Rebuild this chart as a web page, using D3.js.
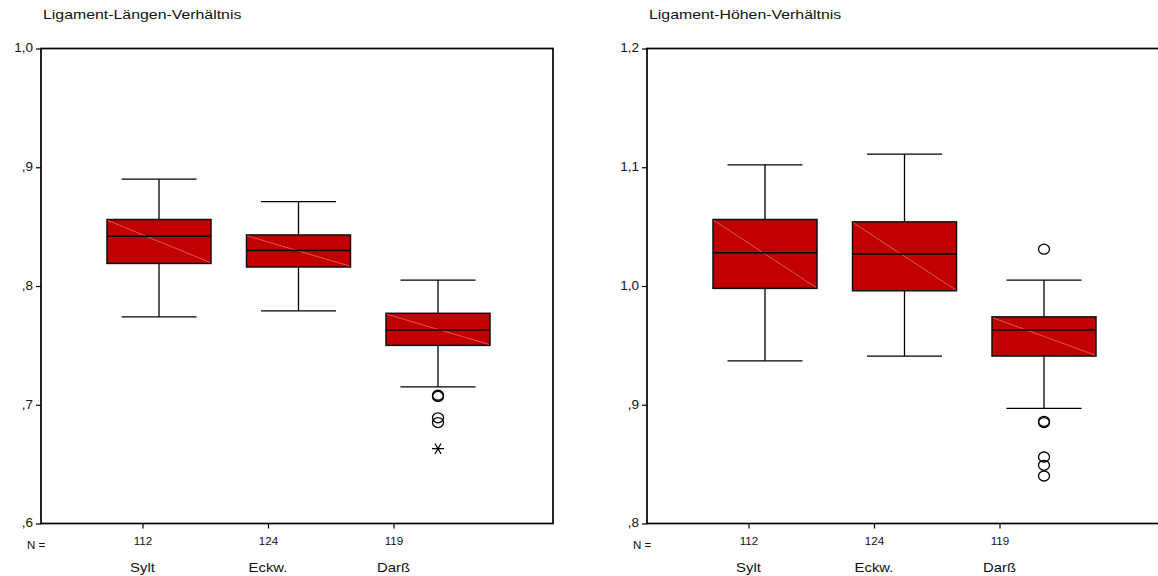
<!DOCTYPE html>
<html>
<head>
<meta charset="utf-8">
<script src="https://cdn.jsdelivr.net/npm/d3@7"></script>
<style>
  html, body { margin: 0; padding: 0; background: #fff; }
  svg { display: block; font-family: "Liberation Sans", Arial, sans-serif; }
</style>
</head>
<body>
<svg id="chart" width="1158" height="576"></svg>
<script>
// Groups and sample sizes
const groups = ["Sylt", "Eckw.", "Darß"];
const counts = [112, 124, 119];

// Ligament-Längen-Verhältnis: five-number summaries per group
const laengenWhiskerLow  = [0.774, 0.779, 0.715];
const laengenQ1          = [0.819, 0.816, 0.750];
const laengenMedian      = [0.842, 0.830, 0.763];
const laengenQ3          = [0.856, 0.843, 0.777];
const laengenWhiskerHigh = [0.890, 0.871, 0.805];
const laengenOutliers = [
  { group: "Darß", value: 0.708, kind: "circle" },
  { group: "Darß", value: 0.707, kind: "circle" },
  { group: "Darß", value: 0.689, kind: "circle" },
  { group: "Darß", value: 0.685, kind: "circle" },
  { group: "Darß", value: 0.663, kind: "star" }
];
const laengenTicks = [0.6, 0.7, 0.8, 0.9, 1.0];

// Ligament-Höhen-Verhältnis: five-number summaries per group
const hoehenWhiskerLow  = [0.937, 0.941, 0.897];
const hoehenQ1          = [0.998, 0.996, 0.941];
const hoehenMedian      = [1.028, 1.027, 0.963];
const hoehenQ3          = [1.056, 1.054, 0.974];
const hoehenWhiskerHigh = [1.102, 1.111, 1.005];
const hoehenOutliers = [
  { group: "Darß", value: 1.031, kind: "circle" },
  { group: "Darß", value: 0.886, kind: "circle" },
  { group: "Darß", value: 0.885, kind: "circle" },
  { group: "Darß", value: 0.856, kind: "circle" },
  { group: "Darß", value: 0.849, kind: "circle" },
  { group: "Darß", value: 0.840, kind: "circle" }
];
const hoehenTicks = [0.8, 0.9, 1.0, 1.1, 1.2];

const panels = [
  {
    title: "Ligament-Längen-Verhältnis", left: 41, domain: [0.6, 1.0], ticks: laengenTicks,
    low: laengenWhiskerLow, q1: laengenQ1, med: laengenMedian, q3: laengenQ3, high: laengenWhiskerHigh,
    outliers: laengenOutliers
  },
  {
    title: "Ligament-Höhen-Verhältnis", left: 647, domain: [0.8, 1.2], ticks: hoehenTicks,
    low: hoehenWhiskerLow, q1: hoehenQ1, med: hoehenMedian, q3: hoehenQ3, high: hoehenWhiskerHigh,
    outliers: hoehenOutliers
  }
];

const svg = d3.select("#chart");
const frameTop = 48.5, frameBottom = 523.5, frameWidth = 512;
const boxWidth = 104, capWidth = 75;
const fillColor = "#c00000";

// German decimal comma, leading zero dropped below one (",9")
const fmt = v => d3.format(".1f")(v).replace(".", ",").replace(/^0/, "");

// six-armed asterisk, horizontal bar plus two diagonals
const starSymbol = {
  draw(ctx, size) {
    const r = Math.sqrt(size) * 0.6;
    const t = r / 2, u = t * Math.sqrt(3);
    ctx.moveTo(-r, 0); ctx.lineTo(r, 0);
    ctx.moveTo(-t, -u); ctx.lineTo(t, u);
    ctx.moveTo(-t, u); ctx.lineTo(t, -u);
  }
};

function stretch(sel, factor) {
  sel.each(function () {
    const w = this.getComputedTextLength();
    d3.select(this).attr("textLength", w * factor).attr("lengthAdjust", "spacingAndGlyphs");
  });
}

panels.forEach(p => {
  const g = svg.append("g").attr("transform", `translate(${p.left},0)`);
  const y = d3.scaleLinear().domain(p.domain).range([frameBottom, frameTop]);
  const xBox = d3.scalePoint().domain(groups).range([118, 397]);
  const xLabel = d3.scalePoint().domain(groups).range([101.5, 352.5]);

  // title
  const title = g.append("text").attr("x", 2).attr("y", 19)
    .attr("font-size", 13).attr("fill", "#111").text(p.title);
  stretch(title, 1.22);

  // frame
  g.append("rect").attr("x", 0).attr("y", frameTop).attr("width", frameWidth)
    .attr("height", frameBottom - frameTop).attr("fill", "none")
    .attr("stroke", "#000").attr("stroke-width", 1.7);

  // y axis
  const yAxis = d3.axisLeft(y).tickValues(p.ticks).tickFormat(fmt).tickSize(5).tickPadding(3);
  const ya = g.append("g").call(yAxis);
  ya.select(".domain").remove();
  ya.selectAll(".tick line").attr("stroke", "#000").attr("stroke-width", 1.2);
  ya.selectAll(".tick text").attr("font-size", 13.5).attr("fill", "#111")
    .attr("font-family", "Liberation Sans, Arial, sans-serif").attr("dy", "0.25em");

  // x axis with group sizes
  const xAxis = d3.axisBottom(xLabel).tickFormat((d, i) => counts[i]).tickSize(5).tickPadding(9);
  const xa = g.append("g").attr("transform", `translate(0,${frameBottom})`).call(xAxis);
  xa.select(".domain").remove();
  xa.selectAll(".tick line").attr("stroke", "#000").attr("stroke-width", 1.2);
  const nText = xa.selectAll(".tick text").attr("font-size", 10.5).attr("fill", "#111")
    .attr("font-family", "Liberation Sans, Arial, sans-serif");
  stretch(nText, 1.1);

  const nLabel = g.append("text").attr("x", -14).attr("y", frameBottom + 25)
    .attr("font-size", 10.5).attr("fill", "#111").text("N =");
  stretch(nLabel, 1.1);

  // category names
  const cats = g.append("g").selectAll("text").data(groups).join("text")
    .attr("x", d => xLabel(d)).attr("y", frameBottom + 48)
    .attr("text-anchor", "middle").attr("font-size", 13.5).attr("fill", "#111")
    .text(d => d);
  stretch(cats, 1.1);

  // boxplots
  const rows = groups.map((grp, i) => ({
    grp, low: p.low[i], q1: p.q1[i], med: p.med[i], q3: p.q3[i], high: p.high[i]
  }));
  const bx = g.append("g").selectAll("g").data(rows).join("g")
    .attr("transform", d => `translate(${xBox(d.grp)},0)`);

  // whiskers
  bx.append("line").attr("x1", 0).attr("x2", 0)
    .attr("y1", d => y(d.high)).attr("y2", d => y(d.q3))
    .attr("stroke", "#000").attr("stroke-width", 1.3);
  bx.append("line").attr("x1", 0).attr("x2", 0)
    .attr("y1", d => y(d.q1)).attr("y2", d => y(d.low))
    .attr("stroke", "#000").attr("stroke-width", 1.3);
  bx.append("line").attr("x1", -capWidth / 2).attr("x2", capWidth / 2)
    .attr("y1", d => y(d.high)).attr("y2", d => y(d.high))
    .attr("stroke", "#000").attr("stroke-width", 1.3);
  bx.append("line").attr("x1", -capWidth / 2).attr("x2", capWidth / 2)
    .attr("y1", d => y(d.low)).attr("y2", d => y(d.low))
    .attr("stroke", "#000").attr("stroke-width", 1.3);

  // box
  bx.append("rect").attr("x", -boxWidth / 2).attr("width", boxWidth)
    .attr("y", d => y(d.q3)).attr("height", d => y(d.q1) - y(d.q3))
    .attr("fill", fillColor).attr("stroke", "#111").attr("stroke-width", 1.5);
  // hatch diagonal
  bx.append("line").attr("x1", -boxWidth / 2 + 1).attr("x2", boxWidth / 2 - 1)
    .attr("y1", d => y(d.q3) + 1).attr("y2", d => y(d.q1) - 1)
    .attr("stroke", "#ef7a7a").attr("stroke-width", 0.7);
  // median
  bx.append("line").attr("x1", -boxWidth / 2).attr("x2", boxWidth / 2)
    .attr("y1", d => y(d.med)).attr("y2", d => y(d.med))
    .attr("stroke", "#000").attr("stroke-width", 1.5);

  // outliers
  const og = g.append("g");
  og.selectAll("ellipse").data(p.outliers.filter(o => o.kind === "circle")).join("ellipse")
    .attr("cx", d => xBox(d.group)).attr("cy", d => y(d.value))
    .attr("rx", 5.5).attr("ry", 5)
    .attr("fill", "none").attr("stroke", "#000").attr("stroke-width", 1.3);
  og.selectAll("path").data(p.outliers.filter(o => o.kind === "star")).join("path")
    .attr("transform", d => `translate(${xBox(d.group)},${y(d.value)})`)
    .attr("d", d3.symbol().type(starSymbol).size(100))
    .attr("fill", "none").attr("stroke", "#000").attr("stroke-width", 1.2);
});
</script>
</body>
</html>
